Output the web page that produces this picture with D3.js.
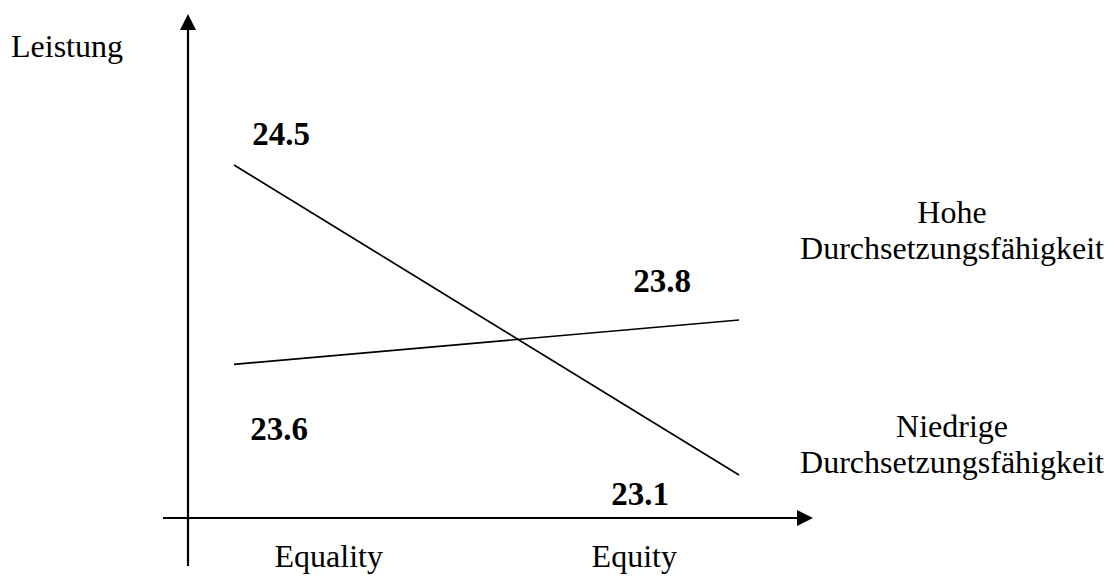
<!DOCTYPE html>
<html lang="de">
<head>
    <meta charset="utf-8">
    <title>Leistung</title>
    <script src="https://d3js.org/d3.v7.min.js"></script>
    <style>
        html,
        body {
            margin: 0;
            padding: 0;
            background: #fff;
        }

        svg text {
            font-family: "Liberation Serif", "Times New Roman", Times, "DejaVu Serif", serif;
            fill: #000;
        }

        .value {
            font-weight: bold;
        }
    </style>
</head>
<body>
    <div id="chart"></div>
    <script>
        // data
        var categories = ["Equality", "Equity"];
        var seriesNames = ["Hohe Durchsetzungsfähigkeit", "Niedrige Durchsetzungsfähigkeit"];
        var hoheValues = [23.6, 23.8];
        var niedrigeValues = [24.5, 23.1];
        var yLabel = "Leistung";

        var width = 1111,
            height = 588;

        var serif = "'Liberation Serif', 'Times New Roman', Times, 'DejaVu Serif', serif";

        var svg = d3.select("#chart").append("svg")
            .attr("width", width)
            .attr("height", height)
            .attr("font-family", serif);

        // arrow heads for the two axes
        var defs = svg.append("defs");
        defs.append("marker")
            .attr("id", "arrow")
            .attr("markerUnits", "userSpaceOnUse")
            .attr("viewBox", "0 0 16 16")
            .attr("refX", 0)
            .attr("refY", 8)
            .attr("markerWidth", 16)
            .attr("markerHeight", 16)
            .attr("orient", "auto")
            .append("path")
            .attr("d", "M0,0L16,8L0,16Z")
            .attr("fill", "#000");

        var axisX = 188,   // where the vertical axis stands
            axisY = 518;   // where the horizontal axis lies

        // the lines start a bit right of the axis and stop before the arrow
        var x = d3.scalePoint()
            .domain(categories)
            .range([234, 739]);

        // category labels sit on their own band positions
        var xLabel = d3.scaleBand()
            .domain(categories)
            .range([176, 787]);

        var y = d3.scaleLinear()
            .domain([23.1, 24.5])
            .range([475, 165]);

        // vertical axis
        svg.append("line")
            .attr("x1", axisX).attr("y1", 566)
            .attr("x2", axisX).attr("y2", 30)
            .attr("stroke", "#000")
            .attr("stroke-width", 2.2)
            .attr("marker-end", "url(#arrow)");

        // horizontal axis
        svg.append("line")
            .attr("x1", 163).attr("y1", axisY)
            .attr("x2", 797).attr("y2", axisY)
            .attr("stroke", "#000")
            .attr("stroke-width", 2.2)
            .attr("marker-end", "url(#arrow)");

        // category names under the axis
        var gx = svg.append("g")
            .attr("transform", "translate(0," + axisY + ")")
            .call(d3.axisBottom(xLabel).tickSize(0).tickPadding(26));
        gx.attr("font-family", serif).attr("font-size", null);
        gx.select(".domain").remove();
        gx.selectAll("text")
            .attr("fill", "#000")
            .style("font-size", "32px");

        svg.append("text")
            .attr("x", 11)
            .attr("y", 57)
            .style("font-size", "32px")
            .text(yLabel);

        var series = [
            { name: seriesNames[0], values: hoheValues },
            { name: seriesNames[1], values: niedrigeValues }
        ];

        var line = d3.line()
            .x(function(d, i) { return x(categories[i]); })
            .y(function(d) { return y(d); });

        svg.append("g")
            .selectAll("path")
            .data(series)
            .enter().append("path")
            .attr("d", function(d) { return line(d.values); })
            .attr("fill", "none")
            .attr("stroke", "#000")
            .attr("stroke-width", 1.7);

        // value labels were placed by hand around each end point
        var valueOffsets = [
            [[45, 76], [-77, -28]],   // hohe
            [[47, -20], [-99, 30]]    // niedrige
        ];

        series.forEach(function(s, si) {
            svg.append("g")
                .selectAll("text")
                .data(s.values)
                .enter().append("text")
                .attr("class", "value")
                .attr("text-anchor", "middle")
                .attr("x", function(d, i) { return x(categories[i]) + valueOffsets[si][i][0]; })
                .attr("y", function(d, i) { return y(d) + valueOffsets[si][i][1]; })
                .style("font-size", "33px")
                .text(function(d) { return d3.format(".1f")(d); });
        });

        // series names on the right, split in two lines
        var legendTop = [223, 437];
        series.forEach(function(s, si) {
            var words = s.name.split(" ");
            var t = svg.append("text")
                .attr("text-anchor", "middle")
                .attr("x", 952)
                .attr("y", legendTop[si])
                .style("font-size", "32px");
            words.forEach(function(w, wi) {
                t.append("tspan")
                    .attr("x", 952)
                    .attr("dy", wi == 0 ? 0 : 36)
                    .text(w);
            });
        });
    </script>
</body>
</html>
